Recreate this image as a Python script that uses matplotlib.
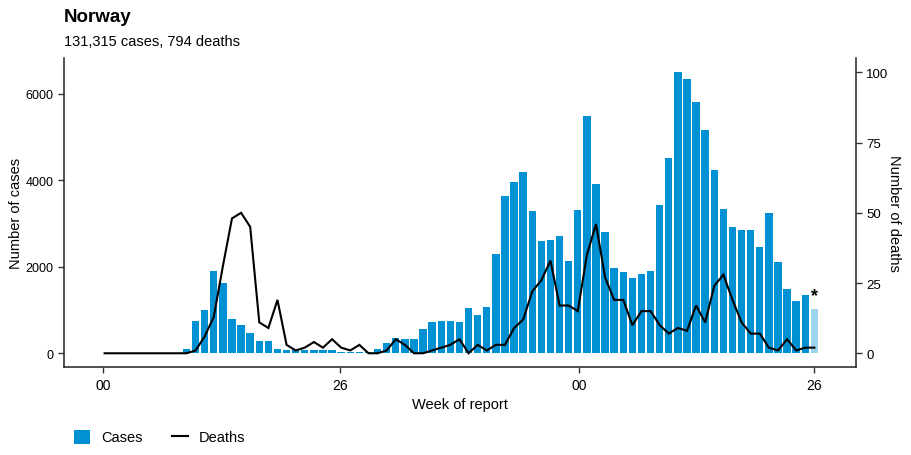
import numpy as np
import pandas as pd
import matplotlib
matplotlib.use("Agg")
import matplotlib.pyplot as plt
import matplotlib.dates as mdates
from matplotlib.patches import Patch
from matplotlib.lines import Line2D

plt.rcParams['font.family'] = ['Liberation Sans', 'DejaVu Sans']

# ---- data (weekly, ISO weeks 2020-W01 .. 2021-W26) ----
cases = [0, 0, 0, 0, 0, 0, 0, 0, 0,
         104, 735, 998, 1900, 1637, 790, 643, 458, 273, 289,
         100, 80, 80, 80, 80, 75, 70, 40, 40, 30, 40,
         104, 235, 358, 327, 327, 551, 728, 751, 736, 720,
         1052, 890, 1075, 2300, 3641, 3973, 4189, 3287, 2601, 2624,
         2724, 2139, 3325,
         5491, 3919, 2817, 1984, 1884, 1730, 1838, 1907, 3441, 4528,
         6500, 6354, 5815, 5167, 4235, 3333, 2932, 2855, 2855, 2462,
         3248, 2123, 1491, 1198, 1352, 1029]
deaths = [0, 0, 0, 0, 0, 0, 0, 0, 0, 0,
          1, 6, 13, 31, 48, 50, 45, 11, 9, 19,
          3, 1, 2, 4, 2, 5, 2, 1, 3,
          0, 0, 1, 5, 3, 0, 0, 1, 2, 3, 5, 0, 3, 1, 3, 3,
          9, 12, 22, 26, 33, 17, 17, 15,
          35, 46, 27, 19, 19, 10, 15, 15, 10, 7, 9, 8, 17, 11,
          24, 28, 19, 11, 7, 7, 2, 1, 5, 1, 2, 2]
incomplete_last = True  # last week marked with '*'
title = "Norway"
subtitle = "131,315 cases, 794 deaths"
tick_dates = ["2020-01-01", "2020-07-01", "2021-01-01", "2021-07-01"]

dates = pd.date_range("2020-01-02", periods=len(cases), freq="7D")
xd = mdates.date2num(dates.to_pydatetime())

BLUE = "#0091d4"
LIGHT = "#9dd4ee"

fig = plt.figure(figsize=(9.12, 4.56), dpi=100)
ax = fig.add_axes([0.0702, 0.1923, 0.9383 - 0.0702, 0.870 - 0.1923])

colors = [BLUE] * len(cases)
if incomplete_last:
    colors[-1] = LIGHT
ax.bar(xd, cases, width=5.7, color=colors, linewidth=0, zorder=2)

cmax = max(cases)
ax.set_ylim(-0.05 * cmax, 1.05 * cmax)
x0 = mdates.date2num(pd.Timestamp("2020-01-01"))
ax.set_xlim(x0 - 30.2, x0 + 578.8)

ax.set_yticks([0, 2000, 4000, 6000])
ax.set_xticks(mdates.date2num(pd.to_datetime(tick_dates).to_pydatetime()))
ax.xaxis.set_major_formatter(mdates.DateFormatter("%W"))

ax2 = ax.twinx()
scale = cmax / 100.0
ax2.set_ylim(ax.get_ylim()[0] / scale, ax.get_ylim()[1] / scale)
ax2.plot(xd, deaths, color="black", lw=1.5, solid_joinstyle="miter", zorder=3)
ax2.set_yticks([0, 25, 50, 75, 100])
ax2.set_xlim(ax.get_xlim())

if incomplete_last:
    ax.text(xd[-1], cases[-1] + 100, "*", ha="center", va="bottom",
            fontsize=13, fontweight="bold", color="black")

for a in (ax, ax2):
    a.spines["top"].set_visible(False)
    for s in a.spines.values():
        s.set_linewidth(1.1)
        s.set_color("#222222")
    a.tick_params(length=4, width=1, color="#333333", labelcolor="black")
ax.spines["right"].set_visible(False)
ax2.spines["left"].set_visible(False)
ax2.spines["bottom"].set_visible(False)
ax.tick_params(axis="y", labelsize=9)
ax.tick_params(axis="x", labelsize=10)
ax2.tick_params(axis="y", labelsize=9.5)

ax.set_xlabel("Week of report", fontsize=10.5, labelpad=4)
ax.set_ylabel("Number of cases", fontsize=10.5, labelpad=2)
ax2.set_ylabel("Number of deaths", fontsize=10.5, rotation=270, labelpad=9)

fig.text(64 / 912, 1 - 17 / 456, title, fontsize=13.5, fontweight="bold",
         ha="left", va="center")
fig.text(64 / 912, 1 - 42 / 456, subtitle, fontsize=10.5, ha="left", va="center")

handles = [Patch(facecolor=BLUE, edgecolor="none"),
           Line2D([0], [0], color="black", lw=1.5)]
fig.legend(handles, ["Cases", "Deaths"], loc="center left",
           bbox_to_anchor=(61 / 912, 1 - 438 / 456), ncol=2, frameon=False,
           fontsize=10.5, handlelength=1.1, handleheight=1.1,
           columnspacing=2.0, handletextpad=0.75)

fig.savefig("out.png", dpi=100)
